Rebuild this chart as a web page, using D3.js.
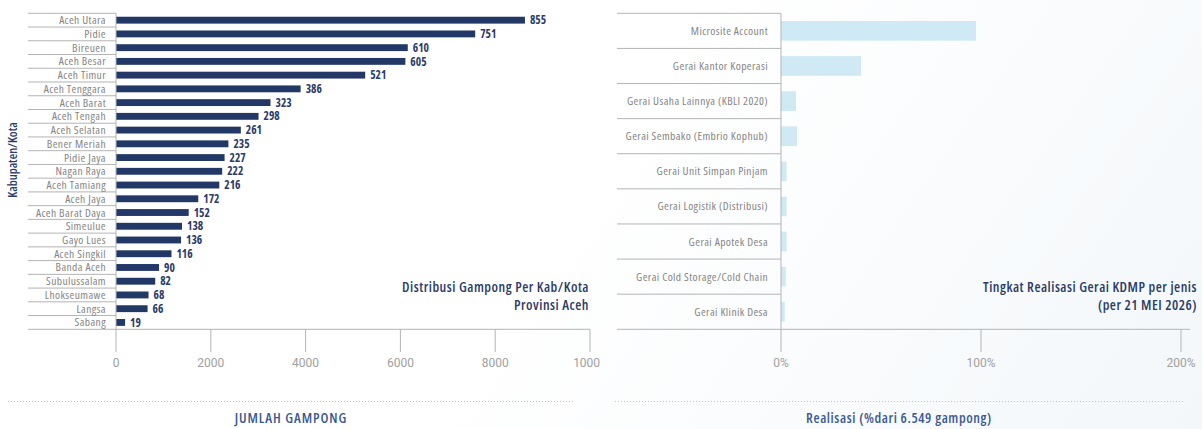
<!DOCTYPE html>
<html>
<head>
<meta charset="utf-8">
<script src="https://cdn.jsdelivr.net/npm/d3@7"></script>
<style>
  html, body { margin: 0; padding: 0; }
  body {
    width: 1202px; height: 429px; overflow: hidden;
    background: linear-gradient(125deg, #ffffff 48%, #f3f7fa 100%);
  }
  svg { display: block; }
  .lbl { font-family: "Open Sans", sans-serif; font-stretch: condensed; font-size: 11.5px; letter-spacing: 0.4px; fill: #858585; }
  .val { font-family: "Open Sans", sans-serif; font-stretch: condensed; font-size: 11.5px; font-weight: 700; fill: #2b3c68; }
  .tick-lbl { font-family: "Roboto", sans-serif; font-size: 12px; fill: #a0a0a0; }
  .title { font-family: "Open Sans", sans-serif; font-stretch: condensed; font-size: 14px; letter-spacing: 0.5px; font-weight: 600; fill: #2b3c68; }
  .foot { font-family: "Open Sans", sans-serif; font-stretch: condensed; font-size: 14px; letter-spacing: 0.6px; font-weight: 600; fill: #3c5a92; }
</style>
</head>
<body>
<svg id="chart" width="1202" height="429"></svg>
<script>
// Gampong count per kabupaten/kota
const kabupaten = ["Aceh Utara", "Pidie", "Bireuen", "Aceh Besar", "Aceh Timur", "Aceh Tenggara",
  "Aceh Barat", "Aceh Tengah", "Aceh Selatan", "Bener Meriah", "Pidie Jaya", "Nagan Raya",
  "Aceh Tamiang", "Aceh Jaya", "Aceh Barat Daya", "Simeulue", "Gayo Lues", "Aceh Singkil",
  "Banda Aceh", "Subulussalam", "Lhokseumawe", "Langsa", "Sabang"];
const jumlahGampong = [855, 751, 610, 605, 521, 386, 323, 298, 261, 235, 227, 222,
  216, 172, 152, 138, 136, 116, 90, 82, 68, 66, 19];
const gampongTicks = [0, 2000, 4000, 6000, 8000, 10000];

// Realisation (%) per gerai type
const jenisGerai = ["Microsite Account", "Gerai Kantor Koperasi", "Gerai Usaha Lainnya (KBLI 2020)",
  "Gerai Sembako (Embrio Kophub)", "Gerai Unit Simpan Pinjam", "Gerai Logistik (Distribusi)",
  "Gerai Apotek Desa", "Gerai Cold Storage/Cold Chain", "Gerai Klinik Desa"];
const realisasi = [97.5, 40, 7.5, 8, 2.8, 2.8, 2.8, 2.4, 1.9];
const realisasiTicks = [0, 100, 200];

const svg = d3.select("#chart");
const defs = svg.append("defs");
defs.append("clipPath").attr("id", "clipLeft")
  .append("rect").attr("x", 0).attr("y", 0).attr("width", 600).attr("height", 429);

const plotTop = 13.3, plotBottom = 329.3, tickEnd = 352;
const lineCol = "#b4b4b4";

// ---------- Left panel ----------
const L = svg.append("g").attr("clip-path", "url(#clipLeft)");
const lLabelX0 = 28, lAxisX = 116, lRight = 590;

const yL = d3.scaleBand().domain(kabupaten).range([plotTop, plotBottom])
  .paddingInner(0.5).paddingOuter(0.25);
const xBar = d3.scaleLinear().domain([0, 991]).range([lAxisX, lRight]);
const xAxisL = d3.scaleLinear().domain([0, 10000]).range([lAxisX, lRight]);

const stepL = yL.step();
// row separators in the label column
L.append("g").selectAll("line").data(d3.range(kabupaten.length + 1)).join("line")
  .attr("x1", lLabelX0).attr("x2", i => i === kabupaten.length ? lRight : lAxisX)
  .attr("y1", i => plotTop + i * stepL).attr("y2", i => plotTop + i * stepL)
  .attr("stroke", lineCol).attr("stroke-width", 1);

L.append("g").selectAll("text").data(kabupaten).join("text")
  .attr("class", "lbl")
  .attr("x", lAxisX - 10)
  .attr("y", d => yL(d) + yL.bandwidth() / 2)
  .attr("dy", "0.35em").attr("text-anchor", "end").text(d => d);

L.append("g").selectAll("rect").data(kabupaten).join("rect")
  .attr("x", xBar(0))
  .attr("y", d => yL(d))
  .attr("width", (d, i) => xBar(jumlahGampong[i]) - xBar(0))
  .attr("height", yL.bandwidth())
  .attr("fill", "#223866");

L.append("g").selectAll("text").data(kabupaten).join("text")
  .attr("class", "val")
  .attr("x", (d, i) => xBar(jumlahGampong[i]) + 5)
  .attr("y", d => yL(d) + yL.bandwidth() / 2)
  .attr("dy", "0.36em").text((d, i) => jumlahGampong[i]);

// axes
L.append("line").attr("x1", lAxisX).attr("x2", lAxisX).attr("y1", plotTop).attr("y2", plotBottom)
  .attr("stroke", lineCol);
L.append("g").selectAll("line").data(gampongTicks).join("line")
  .attr("x1", d => xAxisL(d)).attr("x2", d => xAxisL(d))
  .attr("y1", plotBottom).attr("y2", tickEnd).attr("stroke", lineCol);
L.append("g").selectAll("text").data(gampongTicks).join("text")
  .attr("class", "tick-lbl").attr("text-anchor", "middle")
  .attr("x", d => xAxisL(d)).attr("y", 367).text(d => d);

svg.append("text").attr("class", "title").attr("text-anchor", "middle")
  .attr("transform", "translate(17,160) rotate(-90)")
  .style("font-size", "12.5px").style("letter-spacing", "0px")
  .text("Kabupaten/Kota");

svg.append("text").attr("class", "title").attr("text-anchor", "end")
  .attr("x", 589).attr("y", 292).text("Distribusi Gampong Per Kab/Kota");
svg.append("text").attr("class", "title").attr("text-anchor", "end")
  .attr("x", 589).attr("y", 310).text("Provinsi Aceh");

// ---------- Right panel ----------
const R = svg.append("g");
const rLabelX0 = 617, rAxisX = 781;
const xR = d3.scaleLinear().domain([0, 200]).range([rAxisX, 1181]);
const yR = d3.scaleBand().domain(jenisGerai).range([plotTop, plotBottom])
  .paddingInner(0.44).paddingOuter(0.22);
const stepR = yR.step();

R.append("g").selectAll("line").data(d3.range(jenisGerai.length + 1)).join("line")
  .attr("x1", rLabelX0).attr("x2", i => i === jenisGerai.length ? 1190 : rAxisX)
  .attr("y1", i => plotTop + i * stepR).attr("y2", i => plotTop + i * stepR)
  .attr("stroke", lineCol);

R.append("g").selectAll("text").data(jenisGerai).join("text")
  .attr("class", "lbl")
  .attr("x", rAxisX - 13)
  .attr("y", d => yR(d) + yR.bandwidth() / 2)
  .attr("dy", "0.35em").attr("text-anchor", "end").text(d => d);

R.append("g").selectAll("rect").data(jenisGerai).join("rect")
  .attr("x", xR(0))
  .attr("y", d => yR(d))
  .attr("width", (d, i) => xR(realisasi[i]) - xR(0))
  .attr("height", yR.bandwidth())
  .attr("fill", "#cfe9f5");

R.append("line").attr("x1", rAxisX).attr("x2", rAxisX).attr("y1", plotTop).attr("y2", plotBottom)
  .attr("stroke", lineCol);
R.append("g").selectAll("line").data(realisasiTicks).join("line")
  .attr("x1", d => xR(d)).attr("x2", d => xR(d))
  .attr("y1", plotBottom).attr("y2", tickEnd).attr("stroke", lineCol);
R.append("g").selectAll("text").data(realisasiTicks).join("text")
  .attr("class", "tick-lbl").attr("text-anchor", "middle")
  .attr("x", d => xR(d)).attr("y", 367).text(d => d + "%");

svg.append("text").attr("class", "title").attr("text-anchor", "end")
  .attr("x", 1197).attr("y", 292).text("Tingkat Realisasi Gerai KDMP per jenis");
svg.append("text").attr("class", "title").attr("text-anchor", "end")
  .attr("x", 1197).attr("y", 310).text("(per 21 MEI 2026)");

// ---------- Footer captions ----------
const dotted = [[8, 573], [615, 1183]];
svg.append("g").selectAll("line").data(dotted).join("line")
  .attr("x1", d => d[0]).attr("x2", d => d[1]).attr("y1", 401.5).attr("y2", 401.5)
  .attr("stroke", "#8fd4ee").attr("stroke-width", 1).attr("stroke-dasharray", "1,2");

svg.append("text").attr("class", "foot").attr("text-anchor", "middle")
  .attr("x", 291).attr("y", 423).style("letter-spacing", "0.95px").text("JUMLAH GAMPONG");
svg.append("text").attr("class", "foot").attr("text-anchor", "middle")
  .attr("x", 899).attr("y", 423).text("Realisasi (%dari 6.549 gampong)");
</script>
</body>
</html>
